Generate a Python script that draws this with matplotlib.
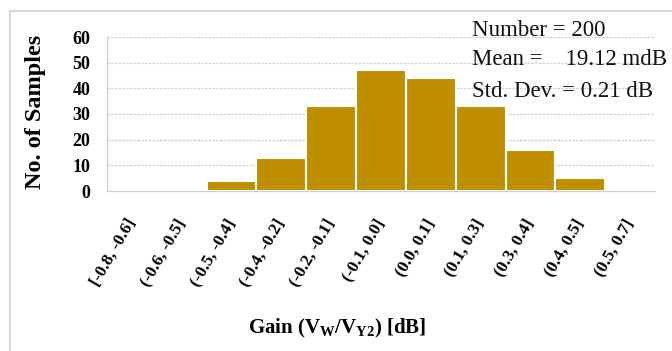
import matplotlib.pyplot as plt
import numpy as np
from matplotlib.patches import Rectangle

plt.rcParams['font.family'] = ['Liberation Serif', 'DejaVu Serif']
plt.rcParams['mathtext.fontset'] = 'custom'
plt.rcParams['mathtext.rm'] = 'Liberation Serif:bold'
plt.rcParams['mathtext.it'] = 'Liberation Serif:bold'
plt.rcParams['mathtext.bf'] = 'Liberation Serif:bold'

# Gain bins and sample counts
bins = ['[-0.8, -0.6]', '(-0.6, -0.5]', '(-0.5, -0.4]', '(-0.4, -0.2]',
        '(-0.2, -0.1]', '(-0.1, 0.0]', '(0.0, 0.1]', '(0.1, 0.3]',
        '(0.3, 0.4]', '(0.4, 0.5]', '(0.5, 0.7]']
counts = [0, 0, 4, 13, 33, 47, 44, 33, 16, 5, 0]
y_ticks = [0, 10, 20, 30, 40, 50, 60]
stats = ['Number = 200', 'Mean =    19.12 mdB', 'Std. Dev. = 0.21 dB']

W, H = 672, 351
fig = plt.figure(figsize=(W / 100, H / 100), dpi=100)

# light frame around the chart
fig.patches.append(Rectangle((10 / W, -0.1), 1.1, 1 - 11 / H + 0.1,
                             transform=fig.transFigure, fill=False,
                             edgecolor='#d9d9d9', linewidth=1.5))

ax = fig.add_axes([107 / W, 1 - 191 / H, 548 / W, 154 / H])
x = np.arange(len(bins))
ax.bar(x, counts, width=1.0, color='#BF8F00', edgecolor='white', linewidth=1.5, zorder=2)

ax.set_xlim(-0.5, len(bins) - 0.5)
ax.set_ylim(0, 60)
ax.set_yticks(y_ticks)
ax.set_yticklabels([str(v) for v in y_ticks], fontsize=13, fontweight='bold')
ax.set_xticks(x)
ax.set_xticklabels(bins, rotation=60, ha='right', va='center',
                   rotation_mode='anchor', fontsize=12.5, fontweight='bold')
ax.tick_params(axis='both', length=0)
ax.tick_params(axis='x', pad=21)
ax.tick_params(axis='y', pad=12)

ax.grid(axis='y', color='#cfcfcf', linestyle=(0, (2, 1)), linewidth=0.9, zorder=0)
for s in ['top', 'right']:
    ax.spines[s].set_visible(False)
for s in ['left', 'bottom']:
    ax.spines[s].set_color('#cfcfcf')
    ax.spines[s].set_linestyle((0, (2, 1)))
    ax.spines[s].set_linewidth(0.9)

fig.text(36 / W, 1 - 112 / H, 'No. of Samples', rotation=90, ha='center', va='center',
         fontsize=17.5, fontweight='bold')
fig.text(337 / W, 1 - 328 / H, r'Gain (V$_\mathrm{W}$/V$_\mathrm{Y2}$) [dB]',
         ha='center', va='center', fontsize=15, fontweight='bold')

for i, line in enumerate(stats):
    fig.text(472 / W, 1 - [36, 65, 97][i] / H, line, ha='left', va='baseline',
             fontsize=16.5, color='#111111')

fig.savefig('out.png', dpi=100)
